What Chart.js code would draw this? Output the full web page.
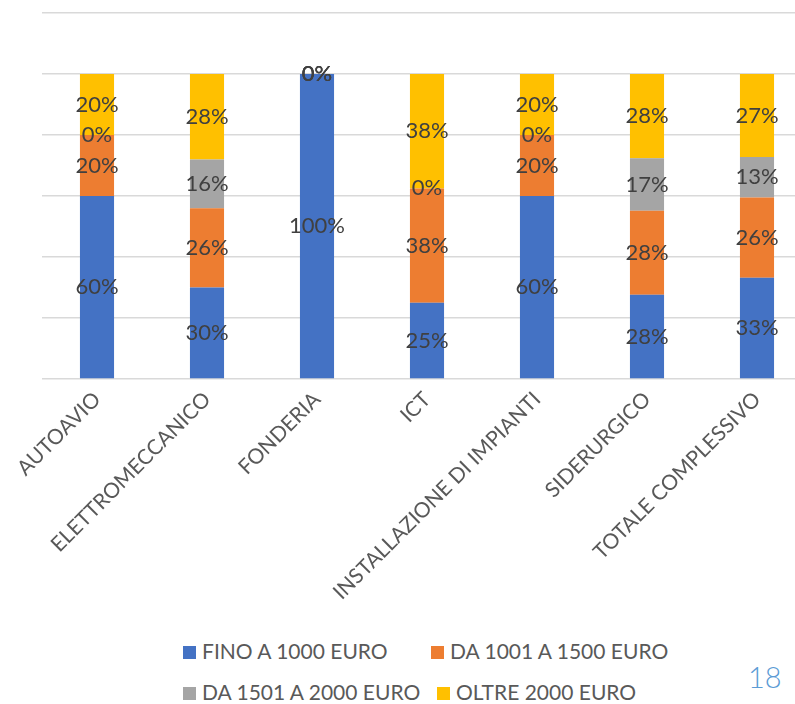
<!DOCTYPE html>
<html>
<head>
<meta charset="utf-8">
<script src="https://cdn.jsdelivr.net/npm/chart.js@4.4.1/dist/chart.umd.min.js"></script>
<style>
  html, body { margin: 0; padding: 0; background: #fff; overflow: hidden; width: 795px; height: 704px; }
  #wrap { position: absolute; left: 0; top: 0; width: 812px; height: 620px; }
  .leg { position: absolute; font-family: Lato, "Open Sans", sans-serif; font-size: 21px; color: #595959; white-space: nowrap; line-height: 22px; }
  .leg span.box { display: inline-block; width: 13px; height: 13px; margin-right: 6px; vertical-align: 0px; }
  #page { position: absolute; left: 748px; top: 659px; font-family: Lato, sans-serif; font-weight: 300; font-size: 29px; color: #5B9BD5; }
</style>
</head>
<body>
<div id="wrap"><canvas id="c"></canvas></div>
<div id="legend"></div>
<div id="page">18</div>
<script>
const categories = ["AUTOAVIO", "ELETTROMECCANICO", "FONDERIA", "ICT", "INSTALLAZIONE DI IMPIANTI", "SIDERURGICO", "TOTALE COMPLESSIVO"];
const seriesNames = ["FINO A 1000 EURO", "DA 1001 A 1500 EURO", "DA 1501 A 2000 EURO", "OLTRE 2000 EURO"];
const seriesColors = ["#4472C4", "#ED7D31", "#A5A5A5", "#FFC000"];
const fino1000 = [60, 30, 100, 25, 60, 27.6, 33.2];
const da1001a1500 = [20, 26, 0, 37.5, 20, 27.6, 26.3];
const da1501a2000 = [0, 16, 0, 0, 0, 17.2, 13.3];
const oltre2000 = [20, 28, 0, 37.5, 20, 27.6, 27.2];
const seriesValues = [fino1000, da1001a1500, da1501a2000, oltre2000];
const yTicks = [0, 20, 40, 60, 80, 100, 120];

const labelPlugin = {
  id: 'segLabels',
  afterDatasetsDraw(chart) {
    const ctx = chart.ctx;
    ctx.save();
    ctx.font = '22px Lato, "Open Sans", sans-serif';
    ctx.fillStyle = '#404040';
    ctx.textAlign = 'center';
    ctx.textBaseline = 'middle';
    chart.data.datasets.forEach((ds, i) => {
      const meta = chart.getDatasetMeta(i);
      meta.data.forEach((bar, j) => {
        const v = ds.data[j];
        const cy = (bar.y + bar.base) / 2;
        ctx.fillText(Math.round(v) + '%', bar.x, cy);
      });
    });
    ctx.restore();
  }
};

new Chart(document.getElementById('c'), {
  type: 'bar',
  data: {
    labels: categories,
    datasets: seriesNames.map((n, i) => ({
      label: n,
      data: seriesValues[i],
      backgroundColor: seriesColors[i],
      borderWidth: 0,
      barPercentage: 0.31,
      categoryPercentage: 1.0
    }))
  },
  options: {
    responsive: true,
    maintainAspectRatio: false,
    animation: false,
    layout: { padding: { top: 13, right: 0, left: 0, bottom: 0 } },
    plugins: { legend: { display: false }, tooltip: { enabled: false } },
    scales: {
      x: {
        stacked: true,
        grid: { display: false },
        border: { display: false },
        ticks: {
          maxRotation: 45, minRotation: 45, autoSkip: false,
          color: '#595959',
          font: { family: 'Lato, "Open Sans", sans-serif', size: 21 },
          padding: 0
        },
        afterFit(scale) { scale.height = 241; }
      },
      y: {
        stacked: true,
        min: 0, max: 120,
        afterBuildTicks(scale) { scale.ticks = yTicks.map(v => ({ value: v })); },
        ticks: { display: false },
        grid: { color: '#D9D9D9', lineWidth: 1.5, drawTicks: false },
        border: { display: false },
        afterFit(scale) { scale.width = 42; }
      }
    }
  },
  plugins: [labelPlugin]
});

const legend = document.getElementById('legend');
const legPos = [[183, 640], [431, 640], [183, 681], [437, 681]];
seriesNames.forEach((n, i) => {
  const d = document.createElement('div');
  d.className = 'leg';
  d.style.left = legPos[i][0] + 'px';
  d.style.top = legPos[i][1] + 'px';
  d.innerHTML = '<span class="box" style="background:' + seriesColors[i] + '"></span>' + n;
  legend.appendChild(d);
});
</script>
</body>
</html>
